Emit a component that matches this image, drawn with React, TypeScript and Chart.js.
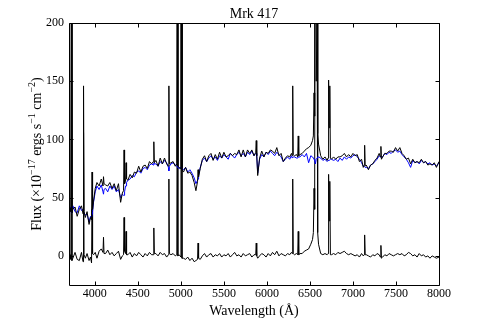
import React, { useEffect, useRef } from "react";
import { Chart, registerables } from "chart.js";

Chart.register(...registerables);

const wave = [
  3700, 3712, 3722, 3728, 3734, 3745, 3770, 3795, 3820, 3845,
  3863, 3869, 3875, 3890, 3910, 3933, 3950, 3962, 3968, 3974,
  3985, 4005, 4025, 4050, 4075, 4095, 4101, 4107, 4125, 4150,
  4175, 4200, 4225, 4250, 4275, 4300, 4320, 4334, 4340, 4346,
  4357, 4363, 4369, 4385, 4410, 4435, 4460, 4485, 4510, 4535,
  4560, 4585, 4610, 4635, 4660, 4680, 4686, 4692, 4710, 4735,
  4760, 4785, 4810, 4835, 4855, 4861, 4867, 4885, 4910, 4935,
  4953, 4959, 4965, 4980, 5001, 5007, 5013, 5030, 5055, 5080,
  5105, 5130, 5155, 5175, 5194, 5200, 5206, 5225, 5250, 5275,
  5300, 5325, 5350, 5375, 5400, 5425, 5450, 5475, 5500, 5525,
  5550, 5575, 5600, 5625, 5650, 5675, 5700, 5725, 5750, 5775,
  5800, 5825, 5850, 5870, 5876, 5882, 5893, 5915, 5940, 5965,
  5990, 6015, 6040, 6065, 6090, 6115, 6140, 6165, 6190, 6215,
  6240, 6265, 6285, 6294, 6300, 6306, 6320, 6345, 6358, 6364,
  6370, 6385, 6410, 6435, 6460, 6485, 6510, 6530, 6540, 6548,
  6555, 6563, 6573, 6583, 6590, 6600, 6625, 6650, 6675, 6700,
  6710, 6717, 6724, 6731, 6738, 6750, 6775, 6800, 6825, 6850,
  6875, 6900, 6925, 6950, 6975, 7000, 7025, 7050, 7075, 7100,
  7120, 7130, 7136, 7142, 7155, 7180, 7205, 7230, 7255, 7280,
  7305, 7319, 7325, 7331, 7345, 7370, 7395, 7420, 7445, 7470,
  7495, 7520, 7545, 7570, 7595, 7620, 7645, 7670, 7695, 7720,
  7745, 7770, 7795, 7820, 7845, 7870, 7895, 7920, 7945, 7970,
  8000,
];

const observed = [
  36, 41, 38, 260, 37, 40, 42, 34, 40, 43,
  36, 146, 38, 33, 38, 27, 33, 31, 72, 40,
  47, 58, 63, 60, 66, 60, 68, 62, 61, 60,
  63, 58, 62, 56, 62, 46, 54, 56, 91, 62,
  64, 80, 66, 65, 70, 67, 72, 71, 77, 72,
  77, 78, 75, 81, 79, 81, 98, 80, 82, 77,
  84, 79, 84, 79, 77, 146, 79, 80, 81, 77,
  79, 320, 77, 76, 75, 900, 74, 72, 76, 71,
  72, 69, 63, 56, 64, 74, 68, 75, 83, 86,
  81, 86, 88, 82, 87, 83, 89, 84, 89, 85,
  86, 88, 86, 88, 87, 91, 85, 91, 85, 91,
  88, 91, 86, 89, 99, 86, 69, 84, 90, 85,
  89, 88, 91, 90, 88, 93, 86, 88, 81, 84,
  86, 85, 88, 86, 146, 87, 86, 87, 85, 103,
  86, 87, 88, 90, 92, 93, 95, 99, 103, 140,
  120, 640, 200, 285, 105, 96, 86, 83, 85, 82,
  84, 151, 110, 146, 84, 83, 85, 83, 85, 85,
  86, 88, 85, 87, 85, 88, 86, 87, 81, 83,
  76, 78, 95, 77, 78, 74, 78, 79, 82, 84,
  88, 85, 94, 83, 85, 88, 88, 90, 90, 89,
  93, 90, 93, 88, 86, 83, 84, 79, 83, 80,
  81, 80, 83, 80, 81, 78, 79, 78, 80, 76,
  81,
];

const model = [
  38, 42, 40, 37, 41, 43, 38, 37, 43, 39,
  40, 38, 37, 35, 36, 29, 34, 33, 36, 38,
  46, 55, 60, 57, 61, 55, 53, 57, 58, 55,
  60, 57, 60, 55, 57, 50, 53, 52, 52, 55,
  60, 60, 63, 65, 66, 69, 68, 72, 73, 71,
  75, 76, 74, 78, 79, 78, 80, 79, 79, 77,
  81, 79, 82, 80, 76, 73, 77, 79, 80, 78,
  77, 77, 76, 75, 76, 76, 75, 74, 76, 72,
  74, 71, 67, 62, 65, 66, 69, 76, 82, 84,
  81, 84, 86, 83, 85, 82, 86, 84, 87, 85,
  83, 88, 86, 84, 87, 89, 86, 88, 85, 89,
  87, 90, 86, 88, 88, 86, 71, 83, 87, 85,
  89, 87, 90, 88, 86, 89, 87, 85, 81, 83,
  85, 83, 86, 84, 84, 85, 85, 84, 84, 85,
  85, 85, 87, 85, 88, 80, 86, 85, 84, 83,
  82, 79, 83, 84, 85, 85, 84, 82, 83, 81,
  82, 82, 82, 82, 83, 83, 82, 83, 81, 84,
  82, 85, 83, 85, 84, 86, 87, 85, 83, 80,
  77, 77, 77, 76, 76, 75, 78, 79, 81, 83,
  86, 85, 85, 85, 85, 88, 87, 89, 88, 90,
  91, 89, 90, 87, 85, 83, 80, 76, 82, 80,
  81, 79, 82, 80, 81, 79, 80, 78, 79, 77,
  80,
];

const residual = [
  -2, 1, -3, 230, -4, -2, 3, -3, -4, 3,
  -5, 106, 1, -2, 2, -4, -1, -6, 40, 2,
  1, 3, -2, 4, 6, 3, 16, 2, 2, 5,
  1, 3, 0, 2, 4, -3, 0, 1, 33, 4,
  2, 21, 1, 1, 3, -1, 2, 0, 3, 1,
  -1, 2, 0, 3, 1, 1, 24, 2, 2, 0,
  3, 1, 2, -1, 1, 66, 2, 1, 2, 0,
  1, 240, 0, 1, -1, 820, -2, -2, -3, -1,
  -4, -2, -5, -4, -3, 11, -2, -3, 0, 2,
  -1, 1, 2, -1, 1, 0, 2, -1, 1, 0,
  2, -1, 1, 3, 0, 1, -1, 2, 0, 1,
  2, -1, 1, 1, 11, 0, -2, 0, 2, 1,
  -1, 2, 0, 3, 1, 4, 0, 2, 1, 0,
  2, 1, 3, 2, 66, 2, 1, 2, 1, 21,
  1, 2, 2, 4, 5, 6, 10, 14, 20, 58,
  40, 560, 150, 200, 20, 10, 2, 1, 2, 1,
  2, 70, 30, 64, 1, 1, 2, 1, 3, 2,
  3, 4, 2, 1, 2, 1, 0, 1, -1, 2,
  0, 1, 18, 1, 1, 0, -1, 1, 0, 2,
  1, -1, 9, -2, -1, 1, 0, 2, 1, 0,
  1, 2, 1, 2, 0, 1, 3, 2, 0, 1,
  -1, 2, 0, 1, -1, 0, -2, 0, -1, -2,
  -1,
];

const xTicks = [4000, 4500, 5000, 5500, 6000, 6500, 7000, 7500, 8000];
const yTicks = [0, 50, 100, 150, 200];
const titleText = "Mrk 417";
const xLabel = "Wavelength (Å)";
const yLabelParts: [string, boolean][] = [
  ["Flux (×10", false],
  ["−17", true],
  [" ergs s", false],
  ["−1", true],
  [" cm", false],
  ["−2", true],
  [")", false],
];

const FONT = "'Liberation Serif', 'DejaVu Serif', serif";

export default function App() {
  const ref = useRef<HTMLCanvasElement>(null);

  useEffect(() => {
    const pts = (ys: number[]) => wave.map((w, i) => ({ x: w, y: ys[i] }));

    const decor = {
      id: "decor",
      afterDraw(chart: any) {
        const ctx = chart.ctx as CanvasRenderingContext2D;
        const a = chart.chartArea;
        const xs = chart.scales.x;
        const ys = chart.scales.y;
        ctx.save();
        ctx.strokeStyle = "#000";
        ctx.lineWidth = 1;
        const L = Math.round(a.left) + 0.5;
        const R = Math.round(a.right) + 0.5;
        const T = Math.round(a.top) + 0.5;
        const B = Math.round(a.bottom) + 0.5;
        ctx.beginPath();
        ctx.rect(L, T, R - L, B - T);
        const tl = 4;
        for (const v of xTicks) {
          const p = Math.round(xs.getPixelForValue(v)) + 0.5;
          ctx.moveTo(p, B);
          ctx.lineTo(p, B - tl);
          ctx.moveTo(p, T);
          ctx.lineTo(p, T + tl);
        }
        for (const v of yTicks) {
          const p = Math.round(ys.getPixelForValue(v)) + 0.5;
          ctx.moveTo(L, p);
          ctx.lineTo(L + tl, p);
          ctx.moveTo(R, p);
          ctx.lineTo(R - tl, p);
        }
        ctx.stroke();

        ctx.fillStyle = "#000";
        ctx.textAlign = "center";
        ctx.textBaseline = "alphabetic";
        ctx.font = `14px ${FONT}`;
        const cx = (a.left + a.right) / 2;
        ctx.fillText(titleText, cx, 18);
        ctx.fillText(xLabel, cx, 315);

        const mainF = `14px ${FONT}`;
        const supF = `10px ${FONT}`;
        let total = 0;
        const widths = yLabelParts.map(([t, s]) => {
          ctx.font = s ? supF : mainF;
          const w = ctx.measureText(t).width;
          total += w;
          return w;
        });
        ctx.translate(41, (a.top + a.bottom) / 2);
        ctx.rotate(-Math.PI / 2);
        ctx.textAlign = "left";
        let xpos = -total / 2;
        yLabelParts.forEach(([t, s], i) => {
          ctx.font = s ? supF : mainF;
          ctx.fillText(t, xpos, s ? -6 : 0);
          xpos += widths[i];
        });
        ctx.restore();
      },
    };

    const tickFont = { family: FONT, size: 12 };
    const line = (data: number[], color: string) => ({
      data: pts(data),
      borderColor: color,
      borderWidth: 1,
      pointRadius: 0,
      tension: 0,
    });
    const chart = new Chart(ref.current as HTMLCanvasElement, {
      type: "line",
      data: {
        datasets: [line(observed, "#000000"), line(model, "#0000ff"), line(residual, "#000000")],
      },
      options: {
        animation: false,
        responsive: false,
        events: [],
        layout: { padding: { left: 0, right: 39, top: 23, bottom: 0 } },
        plugins: {
          legend: { display: false },
          tooltip: { enabled: false },
          title: { display: false },
        },
        scales: {
          x: {
            type: "linear",
            min: 3700,
            max: 8000,
            afterFit: (s: any) => { s.height = 42; },
            afterBuildTicks: (s: any) => { s.ticks = xTicks.map((v) => ({ value: v })); },
            grid: { display: false, drawTicks: false },
            border: { display: false },
            ticks: {
              padding: 2,
              color: "#000",
              font: tickFont,
              maxRotation: 0,
              autoSkip: false,
              callback: (v: any) => String(v),
            },
          },
          y: {
            type: "linear",
            min: -25,
            max: 200,
            afterFit: (s: any) => { s.width = 69; },
            afterBuildTicks: (s: any) => { s.ticks = yTicks.map((v) => ({ value: v })); },
            grid: { display: false, drawTicks: false },
            border: { display: false },
            ticks: {
              padding: 5,
              color: "#000",
              font: tickFont,
              autoSkip: false,
              callback: (v: any) => String(v),
            },
          },
        },
      },
      plugins: [decor],
    } as any);
    return () => chart.destroy();
  }, []);

  return (
    <div style={{ position: "fixed", left: 0, top: 0, width: 478, height: 327, background: "#fff" }}>
      <canvas ref={ref} width={478} height={327} style={{ width: 478, height: 327, display: "block" }} />
    </div>
  );
}
